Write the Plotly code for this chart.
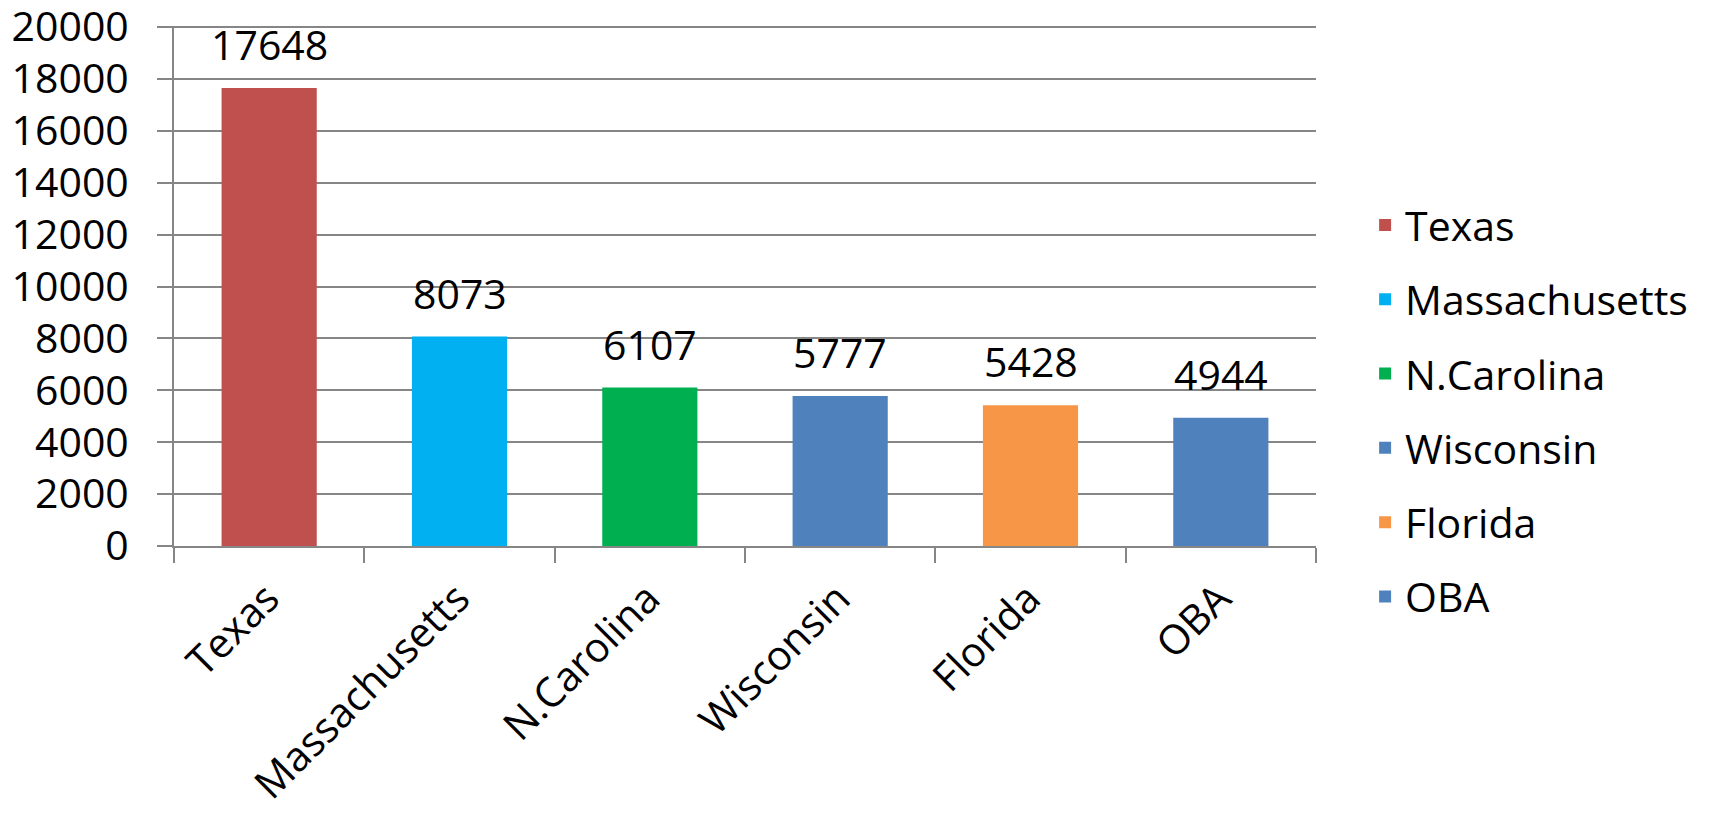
import plotly.graph_objects as go

categories = ["Texas", "Massachusetts", "N.Carolina", "Wisconsin", "Florida", "OBA"]
values = [17648, 8073, 6107, 5777, 5428, 4944]
colors = ["#C0504D", "#00B0F0", "#00B050", "#4F81BD", "#F79646", "#4F81BD"]
y_ticks = list(range(0, 20001, 2000))

FONT = "Open Sans"
FS = 41
GRID = "#868686"

fig = go.Figure()
for cat, val, col in zip(categories, values, colors):
    fig.add_trace(go.Bar(
        x=[cat], y=[val], name=cat, marker=dict(color=col, line=dict(width=0)),
        width=0.5, legendgroup=cat, showlegend=True,
    ))

for cat, val in zip(categories, values):
    fig.add_annotation(x=cat, y=val, text=str(val), showarrow=False,
                       yanchor="bottom", yshift=14,
                       font=dict(family=FONT, size=FS, color="black"))

fig.update_layout(
    width=1693, height=797,
    margin=dict(l=166, r=385, t=18, b=259, autoexpand=False),
    paper_bgcolor="white", plot_bgcolor="white",
    barmode="overlay",
    font=dict(family=FONT, size=FS, color="black"),
    legend=dict(x=1.043, y=0.26, xanchor="left", yanchor="middle",
                font=dict(family=FONT, size=FS, color="black"),
                tracegroupgap=18, traceorder="grouped", borderwidth=0,
                bgcolor="rgba(0,0,0,0)"),
    xaxis=dict(
        categoryorder="array", categoryarray=categories,
        tickangle=-45, showline=True, linecolor=GRID, linewidth=2,
        ticks="outside", tickson="boundaries", ticklen=15, tickcolor=GRID,
        tickwidth=2, showgrid=False, automargin=False,
        ticklabelshift=-2, ticklabelstandoff=10, ticklabeloverflow="allow",
        tickfont=dict(family=FONT, size=FS, color="black"),
    ),
    yaxis=dict(
        range=[0, 20040], tickvals=y_ticks, ticktext=[str(v) for v in y_ticks],
        showline=True, linecolor=GRID, linewidth=2,
        ticks="outside", ticklen=15, tickcolor=GRID, tickwidth=2,
        showgrid=True, gridcolor=GRID, gridwidth=2, zeroline=False,
        automargin=False, ticklabelstandoff=20, ticklabeloverflow="allow",
        tickfont=dict(family=FONT, size=FS, color="black"),
    ),
)

fig.write_html("out.html")
